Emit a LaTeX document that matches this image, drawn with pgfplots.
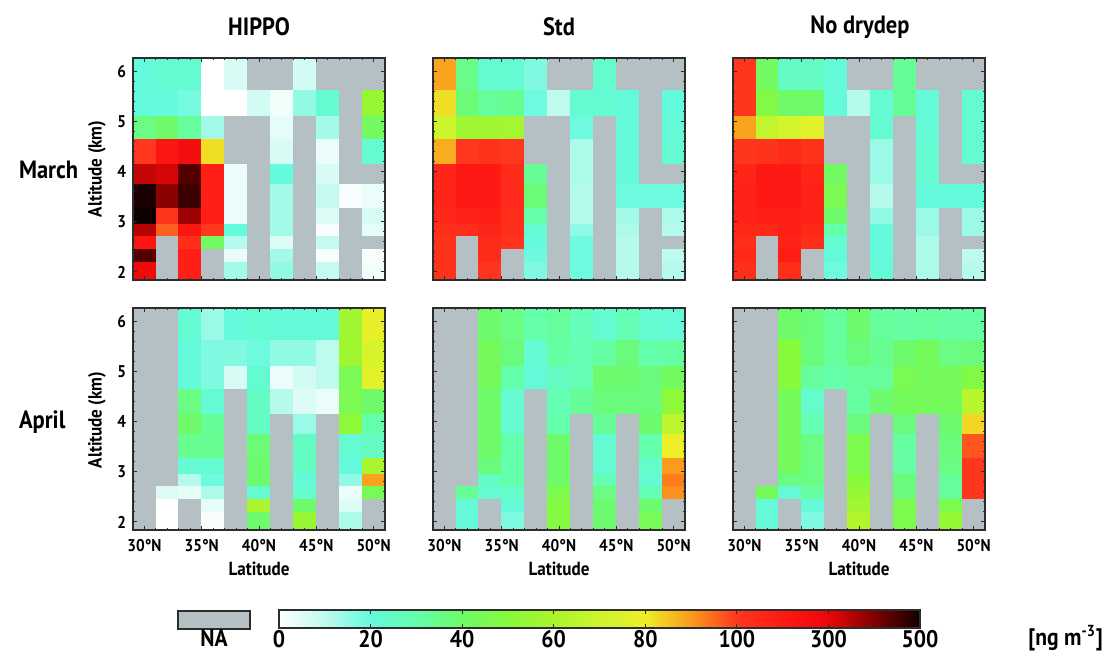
\documentclass[border=0pt]{standalone}
\usepackage{fontspec}
\setmainfont{PT Sans}[FakeStretch=0.9]
\usepackage{pgfplots}
\pgfplotsset{compat=1.18}

\definecolor{framec}{RGB}{45,45,45}
\definecolor{nagray}{RGB}{180,192,196}

% values in ng m-3, NA cells stored as -20 (mapped to gray)
\pgfplotsset{
  colormap={aero}{rgb255(0pt)=(180,192,196) rgb255(20pt)=(255,255,255)
    rgb255(30pt)=(190,250,238) rgb255(40pt)=(100,250,220) rgb255(50pt)=(100,255,170)
    rgb255(60pt)=(110,250,105) rgb255(70pt)=(135,250,60) rgb255(80pt)=(170,245,45)
    rgb255(90pt)=(205,245,45) rgb255(100pt)=(238,238,40) rgb255(110pt)=(250,155,30)
    rgb255(120pt)=(255,55,30) rgb255(220pt)=(255,25,20) rgb255(320pt)=(235,8,8)
    rgb255(420pt)=(130,0,0) rgb255(520pt)=(15,0,0)},
  panel/.style={
    scale only axis, width=126pt, height=111pt, anchor=south west,
    xmin=29, xmax=51, ymin=1.84, ymax=6.28,
    point meta min=-20, point meta max=500,
    axis on top,
    xtick={30,35,40,45,50}, ytick={2,3,4,5,6},
    minor x tick num=4, minor y tick num=4,
    tick align=inside, xtick pos=both, ytick pos=both,
    xticklabel pos=lower, yticklabel pos=left,
    major tick length=2.2pt, minor tick length=1.2pt,
    axis line style={framec, line width=0.7pt},
    every tick/.style={framec, line width=0.5pt},
    xticklabels={}, yticklabels={},
    tick label style={font=\fontsize{8.5}{10}\selectfont\bfseries},
    xticklabel style={yshift=-1pt},
  },
  cells/.style={surf, shader=flat corner, mesh/cols=12, point meta=explicit},
}

\begin{document}
\begin{tikzpicture}
\path (0,0) rectangle (555.5pt,327.5pt);

% HIPPO March
\begin{axis}[panel, at={(66.5pt,187.5pt)}, yticklabels={2,3,4,5,6}]
\addplot[cells] coordinates {
(29,1.84)[280] (31,1.84)[-20] (33,1.84)[180] (35,1.84)[-20] (37,1.84)[13] (39,1.84)[-20] (41,1.84)[15] (43,1.84)[-20] (45,1.84)[9] (47,1.84)[-20] (49,1.84)[2] (51,1.84)[-20]
(29,2.22)[440] (31,2.22)[-20] (33,2.22)[180] (35,2.22)[-20] (37,2.22)[3] (39,2.22)[-20] (41,2.22)[13] (43,2.22)[-20] (45,2.22)[1] (47,2.22)[-20] (49,2.22)[1] (51,2.22)[-20]
(29,2.47)[220] (31,2.47)[-20] (33,2.47)[130] (35,2.47)[42] (37,2.47)[11] (39,2.47)[-20] (41,2.47)[5] (43,2.47)[-20] (45,2.47)[9] (47,2.47)[-20] (49,2.47)[-20] (51,2.47)[-20]
(29,2.73)[350] (31,2.73)[96] (33,2.73)[220] (35,2.73)[100] (37,2.73)[20] (39,2.73)[-20] (41,2.73)[13] (43,2.73)[-20] (45,2.73)[1] (47,2.73)[-20] (49,2.73)[4] (51,2.73)[-20]
(29,2.97)[500] (31,2.97)[110] (33,2.97)[375] (35,2.97)[180] (37,2.97)[3] (39,2.97)[-20] (41,2.97)[13] (43,2.97)[-20] (45,2.97)[5] (47,2.97)[-20] (49,2.97)[6] (51,2.97)[-20]
(29,3.29)[490] (31,3.29)[390] (33,3.29)[460] (35,3.29)[180] (37,3.29)[3] (39,3.29)[-20] (41,3.29)[13] (43,3.29)[-20] (45,3.29)[9] (47,3.29)[1] (49,3.29)[3] (51,3.29)[-20]
(29,3.78)[335] (31,3.78)[320] (33,3.78)[440] (35,3.78)[180] (37,3.78)[3] (39,3.78)[-20] (41,3.78)[20] (43,3.78)[-20] (45,3.78)[6] (47,3.78)[-20] (49,3.78)[-20] (51,3.78)[-20]
(29,4.18)[100] (31,4.18)[220] (33,4.18)[260] (35,4.18)[82] (37,4.18)[-20] (39,4.18)[-20] (41,4.18)[6] (43,4.18)[-20] (45,4.18)[3] (47,4.18)[-20] (49,4.18)[22] (51,4.18)[-20]
(29,4.67)[36] (31,4.67)[40] (33,4.67)[32] (35,4.67)[13] (37,4.67)[-20] (39,4.67)[-20] (41,4.67)[4] (43,4.67)[-20] (45,4.67)[13] (47,4.67)[-20] (49,4.67)[42] (51,4.67)[-20]
(29,5.14)[20] (31,5.14)[20] (33,5.14)[18] (35,5.14)[0] (37,5.14)[0] (39,5.14)[7] (41,5.14)[2] (43,5.14)[15] (45,5.14)[22] (47,5.14)[-20] (49,5.14)[55] (51,5.14)[-20]
(29,5.66)[20] (31,5.66)[22] (33,5.66)[22] (35,5.66)[0] (37,5.66)[6] (39,5.66)[-20] (41,5.66)[-20] (43,5.66)[7] (45,5.66)[-20] (47,5.66)[-20] (49,5.66)[-20] (51,5.66)[-20]
(29,6.28)[-20] (31,6.28)[-20] (33,6.28)[-20] (35,6.28)[-20] (37,6.28)[-20] (39,6.28)[-20] (41,6.28)[-20] (43,6.28)[-20] (45,6.28)[-20] (47,6.28)[-20] (49,6.28)[-20] (51,6.28)[-20]
};
\end{axis}

% Std March
\begin{axis}[panel, at={(216.5pt,187.5pt)}]
\addplot[cells] coordinates {
(29,1.84)[115] (31,1.84)[-20] (33,1.84)[110] (35,1.84)[-20] (37,1.84)[17] (39,1.84)[-20] (41,1.84)[19] (43,1.84)[-20] (45,1.84)[11] (47,1.84)[-20] (49,1.84)[11] (51,1.84)[-20]
(29,2.22)[115] (31,2.22)[-20] (33,2.22)[140] (35,2.22)[-20] (37,2.22)[19] (39,2.22)[-20] (41,2.22)[19] (43,2.22)[-20] (45,2.22)[11] (47,2.22)[-20] (49,2.22)[10] (51,2.22)[-20]
(29,2.47)[115] (31,2.47)[-20] (33,2.47)[140] (35,2.47)[110] (37,2.47)[20] (39,2.47)[-20] (41,2.47)[19] (43,2.47)[-20] (45,2.47)[11] (47,2.47)[-20] (49,2.47)[-20] (51,2.47)[-20]
(29,2.73)[130] (31,2.73)[130] (33,2.73)[160] (35,2.73)[130] (37,2.73)[22] (39,2.73)[-20] (41,2.73)[15] (43,2.73)[-20] (45,2.73)[12] (47,2.73)[-20] (49,2.73)[11] (51,2.73)[-20]
(29,2.97)[150] (31,2.97)[170] (33,2.97)[180] (35,2.97)[130] (37,2.97)[30] (39,2.97)[-20] (41,2.97)[11] (43,2.97)[-20] (45,2.97)[13] (47,2.97)[-20] (49,2.97)[12] (51,2.97)[-20]
(29,3.29)[160] (31,3.29)[200] (33,3.29)[200] (35,3.29)[140] (37,3.29)[38] (39,3.29)[-20] (41,3.29)[11] (43,3.29)[-20] (45,3.29)[19] (47,3.29)[19] (49,3.29)[19] (51,3.29)[-20]
(29,3.78)[160] (31,3.78)[200] (33,3.78)[200] (35,3.78)[140] (37,3.78)[33] (39,3.78)[-20] (41,3.78)[12] (43,3.78)[-20] (45,3.78)[21] (47,3.78)[-20] (49,3.78)[-20] (51,3.78)[-20]
(29,4.18)[88] (31,4.18)[100] (33,4.18)[115] (35,4.18)[100] (37,4.18)[-20] (39,4.18)[-20] (41,4.18)[12] (43,4.18)[-20] (45,4.18)[21] (47,4.18)[-20] (49,4.18)[22] (51,4.18)[-20]
(29,4.67)[70] (31,4.67)[57] (33,4.67)[57] (35,4.67)[58] (37,4.67)[-20] (39,4.67)[-20] (41,4.67)[19] (43,4.67)[-20] (45,4.67)[21] (47,4.67)[-20] (49,4.67)[21] (51,4.67)[-20]
(29,5.14)[82] (31,5.14)[38] (33,5.14)[32] (35,5.14)[34] (37,5.14)[19] (39,5.14)[10] (41,5.14)[22] (43,5.14)[22] (45,5.14)[21] (47,5.14)[-20] (49,5.14)[20] (51,5.14)[-20]
(29,5.66)[89] (31,5.66)[35] (33,5.66)[22] (35,5.66)[22] (37,5.66)[17] (39,5.66)[-20] (41,5.66)[-20] (43,5.66)[23] (45,5.66)[-20] (47,5.66)[-20] (49,5.66)[-20] (51,5.66)[-20]
(29,6.28)[-20] (31,6.28)[-20] (33,6.28)[-20] (35,6.28)[-20] (37,6.28)[-20] (39,6.28)[-20] (41,6.28)[-20] (43,6.28)[-20] (45,6.28)[-20] (47,6.28)[-20] (49,6.28)[-20] (51,6.28)[-20]
};
\end{axis}

% No drydep March
\begin{axis}[panel, at={(366.5pt,187.5pt)}]
\addplot[cells] coordinates {
(29,1.84)[130] (31,1.84)[-20] (33,1.84)[130] (35,1.84)[-20] (37,1.84)[19] (39,1.84)[-20] (41,1.84)[21] (43,1.84)[-20] (45,1.84)[12] (47,1.84)[-20] (49,1.84)[11] (51,1.84)[-20]
(29,2.22)[150] (31,2.22)[-20] (33,2.22)[190] (35,2.22)[-20] (37,2.22)[21] (39,2.22)[-20] (41,2.22)[20] (43,2.22)[-20] (45,2.22)[12] (47,2.22)[-20] (49,2.22)[10] (51,2.22)[-20]
(29,2.47)[130] (31,2.47)[-20] (33,2.47)[165] (35,2.47)[130] (37,2.47)[22] (39,2.47)[-20] (41,2.47)[20] (43,2.47)[-20] (45,2.47)[12] (47,2.47)[-20] (49,2.47)[-20] (51,2.47)[-20]
(29,2.73)[150] (31,2.73)[150] (33,2.73)[180] (35,2.73)[150] (37,2.73)[30] (39,2.73)[-20] (41,2.73)[20] (43,2.73)[-20] (45,2.73)[14] (47,2.73)[-20] (49,2.73)[14] (51,2.73)[-20]
(29,2.97)[165] (31,2.97)[180] (33,2.97)[180] (35,2.97)[165] (37,2.97)[40] (39,2.97)[-20] (41,2.97)[15] (43,2.97)[-20] (45,2.97)[14] (47,2.97)[-20] (49,2.97)[14] (51,2.97)[-20]
(29,3.29)[170] (31,3.29)[200] (33,3.29)[200] (35,3.29)[170] (37,3.29)[45] (39,3.29)[-20] (41,3.29)[11] (43,3.29)[-20] (45,3.29)[20] (47,3.29)[20] (49,3.29)[20] (51,3.29)[-20]
(29,3.78)[160] (31,3.78)[200] (33,3.78)[200] (35,3.78)[160] (37,3.78)[42] (39,3.78)[-20] (41,3.78)[14] (43,3.78)[-20] (45,3.78)[22] (47,3.78)[-20] (49,3.78)[-20] (51,3.78)[-20]
(29,4.18)[102] (31,4.18)[115] (33,4.18)[140] (35,4.18)[115] (37,4.18)[-20] (39,4.18)[-20] (41,4.18)[14] (43,4.18)[-20] (45,4.18)[22] (47,4.18)[-20] (49,4.18)[22] (51,4.18)[-20]
(29,4.67)[89] (31,4.67)[67] (33,4.67)[72] (35,4.67)[76] (37,4.67)[-20] (39,4.67)[-20] (41,4.67)[22] (43,4.67)[-20] (45,4.67)[21] (47,4.67)[-20] (49,4.67)[22] (51,4.67)[-20]
(29,5.14)[102] (31,5.14)[48] (33,5.14)[40] (35,5.14)[40] (37,5.14)[21] (39,5.14)[11] (41,5.14)[22] (43,5.14)[33] (45,5.14)[21] (47,5.14)[-20] (49,5.14)[22] (51,5.14)[-20]
(29,5.66)[105] (31,5.66)[42] (33,5.66)[25] (35,5.66)[25] (37,5.66)[21] (39,5.66)[-20] (41,5.66)[-20] (43,5.66)[33] (45,5.66)[-20] (47,5.66)[-20] (49,5.66)[-20] (51,5.66)[-20]
(29,6.28)[-20] (31,6.28)[-20] (33,6.28)[-20] (35,6.28)[-20] (37,6.28)[-20] (39,6.28)[-20] (41,6.28)[-20] (43,6.28)[-20] (45,6.28)[-20] (47,6.28)[-20] (49,6.28)[-20] (51,6.28)[-20]
};
\end{axis}

% HIPPO April
\begin{axis}[panel, at={(66.5pt,62.5pt)}, yticklabels={2,3,4,5,6},
  xticklabels={30°N,35°N,40°N,45°N,50°N}]
\addplot[cells] coordinates {
(29,1.84)[-20] (31,1.84)[0] (33,1.84)[-20] (35,1.84)[1] (37,1.84)[-20] (39,1.84)[39] (41,1.84)[-20] (43,1.84)[55] (45,1.84)[-20] (47,1.84)[12] (49,1.84)[-20] (51,1.84)[-20]
(29,2.22)[-20] (31,2.22)[0] (33,2.22)[-20] (35,2.22)[4] (37,2.22)[-20] (39,2.22)[60] (41,2.22)[-20] (43,2.22)[40] (45,2.22)[-20] (47,2.22)[5] (49,2.22)[-20] (51,2.22)[-20]
(29,2.47)[-20] (31,2.47)[5] (33,2.47)[4] (35,2.47)[12] (37,2.47)[-20] (39,2.47)[22] (41,2.47)[-20] (43,2.47)[23] (45,2.47)[-20] (47,2.47)[3] (49,2.47)[44] (51,2.47)[-20]
(29,2.73)[-20] (31,2.73)[-20] (33,2.73)[11] (35,2.73)[19] (37,2.73)[-20] (39,2.73)[39] (41,2.73)[-20] (43,2.73)[21] (45,2.73)[-20] (47,2.73)[15] (49,2.73)[89] (51,2.73)[-20]
(29,2.97)[-20] (31,2.97)[-20] (33,2.97)[22] (35,2.97)[22] (37,2.97)[-20] (39,2.97)[39] (41,2.97)[-20] (43,2.97)[25] (45,2.97)[-20] (47,2.97)[20] (49,2.97)[60] (51,2.97)[-20]
(29,3.29)[-20] (31,3.29)[-20] (33,3.29)[34] (35,3.29)[34] (37,3.29)[-20] (39,3.29)[38] (41,3.29)[-20] (43,3.29)[25] (45,3.29)[-20] (47,3.29)[22] (49,3.29)[25] (51,3.29)[-20]
(29,3.78)[-20] (31,3.78)[-20] (33,3.78)[40] (35,3.78)[33] (37,3.78)[-20] (39,3.78)[25] (41,3.78)[-20] (43,3.78)[14] (45,3.78)[-20] (47,3.78)[52] (49,3.78)[30] (51,3.78)[-20]
(29,4.18)[-20] (31,4.18)[-20] (33,4.18)[36] (35,4.18)[22] (37,4.18)[-20] (39,4.18)[25] (41,4.18)[11] (43,4.18)[5] (45,4.18)[3] (47,4.18)[45] (49,4.18)[40] (51,4.18)[-20]
(29,4.67)[-20] (31,4.67)[-20] (33,4.67)[20] (35,4.67)[17] (37,4.67)[6] (39,4.67)[22] (41,4.67)[3] (43,4.67)[7] (45,4.67)[10] (47,4.67)[45] (49,4.67)[76] (51,4.67)[-20]
(29,5.14)[-20] (31,5.14)[-20] (33,5.14)[20] (35,5.14)[17] (37,5.14)[17] (39,5.14)[19] (41,5.14)[15] (43,5.14)[15] (45,5.14)[10] (47,5.14)[57] (49,5.14)[73] (51,5.14)[-20]
(29,5.66)[-20] (31,5.66)[-20] (33,5.66)[22] (35,5.66)[14] (37,5.66)[20] (39,5.66)[22] (41,5.66)[21] (43,5.66)[21] (45,5.66)[21] (47,5.66)[57] (49,5.66)[78] (51,5.66)[-20]
(29,6.28)[-20] (31,6.28)[-20] (33,6.28)[-20] (35,6.28)[-20] (37,6.28)[-20] (39,6.28)[-20] (41,6.28)[-20] (43,6.28)[-20] (45,6.28)[-20] (47,6.28)[-20] (49,6.28)[-20] (51,6.28)[-20]
};
\end{axis}

% Std April
\begin{axis}[panel, at={(216.5pt,62.5pt)}, xticklabels={30°N,35°N,40°N,45°N,50°N}]
\addplot[cells] coordinates {
(29,1.84)[-20] (31,1.84)[21] (33,1.84)[-20] (35,1.84)[17] (37,1.84)[-20] (39,1.84)[49] (41,1.84)[-20] (43,1.84)[39] (45,1.84)[-20] (47,1.84)[44] (49,1.84)[-20] (51,1.84)[-20]
(29,2.22)[-20] (31,2.22)[21] (33,2.22)[-20] (35,2.22)[21] (37,2.22)[-20] (39,2.22)[49] (41,2.22)[-20] (43,2.22)[39] (45,2.22)[-20] (47,2.22)[39] (49,2.22)[-20] (51,2.22)[-20]
(29,2.47)[-20] (31,2.47)[33] (33,2.47)[22] (35,2.47)[24] (37,2.47)[-20] (39,2.47)[46] (41,2.47)[-20] (43,2.47)[36] (45,2.47)[-20] (47,2.47)[28] (49,2.47)[91] (51,2.47)[-20]
(29,2.73)[-20] (31,2.73)[-20] (33,2.73)[25] (35,2.73)[30] (37,2.73)[-20] (39,2.73)[40] (41,2.73)[-20] (43,2.73)[28] (45,2.73)[-20] (47,2.73)[22] (49,2.73)[93] (51,2.73)[-20]
(29,2.97)[-20] (31,2.97)[-20] (33,2.97)[37] (35,2.97)[30] (37,2.97)[-20] (39,2.97)[40] (41,2.97)[-20] (43,2.97)[22] (45,2.97)[-20] (47,2.97)[23] (49,2.97)[90] (51,2.97)[-20]
(29,3.29)[-20] (31,3.29)[-20] (33,3.29)[40] (35,3.29)[30] (37,3.29)[-20] (39,3.29)[40] (41,3.29)[-20] (43,3.29)[22] (45,3.29)[-20] (47,3.29)[30] (49,3.29)[80] (51,3.29)[-20]
(29,3.78)[-20] (31,3.78)[-20] (33,3.78)[40] (35,3.78)[22] (37,3.78)[-20] (39,3.78)[30] (41,3.78)[-20] (43,3.78)[33] (45,3.78)[-20] (47,3.78)[39] (49,3.78)[66] (51,3.78)[-20]
(29,4.18)[-20] (31,4.18)[-20] (33,4.18)[40] (35,4.18)[22] (37,4.18)[-20] (39,4.18)[28] (41,4.18)[33] (43,4.18)[37] (45,4.18)[37] (47,4.18)[37] (49,4.18)[52] (51,4.18)[-20]
(29,4.67)[-20] (31,4.67)[-20] (33,4.67)[43] (35,4.67)[30] (37,4.67)[21] (39,4.67)[25] (41,4.67)[28] (43,4.67)[39] (45,4.67)[39] (47,4.67)[37] (49,4.67)[42] (51,4.67)[-20]
(29,5.14)[-20] (31,5.14)[-20] (33,5.14)[43] (35,5.14)[37] (37,5.14)[22] (39,5.14)[31] (41,5.14)[28] (43,5.14)[31] (45,5.14)[37] (47,5.14)[30] (49,5.14)[31] (51,5.14)[-20]
(29,5.66)[-20] (31,5.66)[-20] (33,5.66)[39] (35,5.66)[36] (37,5.66)[30] (39,5.66)[32] (41,5.66)[27] (43,5.66)[22] (45,5.66)[28] (47,5.66)[22] (49,5.66)[21] (51,5.66)[-20]
(29,6.28)[-20] (31,6.28)[-20] (33,6.28)[-20] (35,6.28)[-20] (37,6.28)[-20] (39,6.28)[-20] (41,6.28)[-20] (43,6.28)[-20] (45,6.28)[-20] (47,6.28)[-20] (49,6.28)[-20] (51,6.28)[-20]
};
\end{axis}

% No drydep April
\begin{axis}[panel, at={(366.5pt,62.5pt)}, xticklabels={30°N,35°N,40°N,45°N,50°N}]
\addplot[cells] coordinates {
(29,1.84)[-20] (31,1.84)[21] (33,1.84)[-20] (35,1.84)[17] (37,1.84)[-20] (39,1.84)[62] (41,1.84)[-20] (43,1.84)[46] (45,1.84)[-20] (47,1.84)[54] (49,1.84)[-20] (51,1.84)[-20]
(29,2.22)[-20] (31,2.22)[21] (33,2.22)[-20] (35,2.22)[21] (37,2.22)[-20] (39,2.22)[57] (41,2.22)[-20] (43,2.22)[46] (45,2.22)[-20] (47,2.22)[46] (49,2.22)[-20] (51,2.22)[-20]
(29,2.47)[-20] (31,2.47)[43] (33,2.47)[21] (35,2.47)[31] (37,2.47)[-20] (39,2.47)[54] (41,2.47)[-20] (43,2.47)[37] (45,2.47)[-20] (47,2.47)[32] (49,2.47)[102] (51,2.47)[-20]
(29,2.73)[-20] (31,2.73)[-20] (33,2.73)[36] (35,2.73)[36] (37,2.73)[-20] (39,2.73)[50] (41,2.73)[-20] (43,2.73)[37] (45,2.73)[-20] (47,2.73)[32] (49,2.73)[102] (51,2.73)[-20]
(29,2.97)[-20] (31,2.97)[-20] (33,2.97)[43] (35,2.97)[36] (37,2.97)[-20] (39,2.97)[46] (41,2.97)[-20] (43,2.97)[31] (45,2.97)[-20] (47,2.97)[36] (49,2.97)[102] (51,2.97)[-20]
(29,3.29)[-20] (31,3.29)[-20] (33,3.29)[43] (35,3.29)[36] (37,3.29)[-20] (39,3.29)[46] (41,3.29)[-20] (43,3.29)[31] (45,3.29)[-20] (47,3.29)[37] (49,3.29)[97] (51,3.29)[-20]
(29,3.78)[-20] (31,3.78)[-20] (33,3.78)[43] (35,3.78)[28] (37,3.78)[-20] (39,3.78)[37] (41,3.78)[-20] (43,3.78)[37] (45,3.78)[-20] (47,3.78)[39] (49,3.78)[83] (51,3.78)[-20]
(29,4.18)[-20] (31,4.18)[-20] (33,4.18)[43] (35,4.18)[23] (37,4.18)[-20] (39,4.18)[31] (41,4.18)[39] (43,4.18)[43] (45,4.18)[43] (47,4.18)[43] (49,4.18)[64] (51,4.18)[-20]
(29,4.67)[-20] (31,4.67)[-20] (33,4.67)[50] (35,4.67)[32] (37,4.67)[30] (39,4.67)[32] (41,4.67)[32] (43,4.67)[45] (45,4.67)[43] (47,4.67)[43] (49,4.67)[48] (51,4.67)[-20]
(29,5.14)[-20] (31,5.14)[-20] (33,5.14)[50] (35,5.14)[37] (37,5.14)[32] (39,5.14)[37] (41,5.14)[34] (43,5.14)[39] (45,5.14)[43] (47,5.14)[36] (49,5.14)[37] (51,5.14)[-20]
(29,5.66)[-20] (31,5.66)[-20] (33,5.66)[40] (35,5.66)[37] (37,5.66)[32] (39,5.66)[39] (41,5.66)[32] (43,5.66)[31] (45,5.66)[32] (47,5.66)[31] (49,5.66)[31] (51,5.66)[-20]
(29,6.28)[-20] (31,6.28)[-20] (33,6.28)[-20] (35,6.28)[-20] (37,6.28)[-20] (39,6.28)[-20] (41,6.28)[-20] (43,6.28)[-20] (45,6.28)[-20] (47,6.28)[-20] (49,6.28)[-20] (51,6.28)[-20]
};
\end{axis}

% colour bar
\begin{axis}[at={(139.5pt,13.5pt)}, anchor=south west, scale only axis,
  width=320.5pt, height=9pt, xmin=0, xmax=7, ymin=0, ymax=1,
  point meta min=-20, point meta max=500, axis on top,
  xtick={0,1,2,3,4,5,6,7}, xticklabels={0,20,40,60,80,100,300,500}, ytick=\empty,
  tick align=inside, xtick pos=both, xticklabel pos=lower, major tick length=2pt,
  axis line style={framec, line width=0.7pt}, every tick/.style={framec, line width=0.5pt},
  xticklabel style={font=\fontsize{12}{14}\selectfont\bfseries, inner sep=1pt}]
\addplot[surf, shader=interp, mesh/cols=8, point meta=explicit] coordinates {
(0,0)[0] (1,0)[20] (2,0)[40] (3,0)[60] (4,0)[80] (5,0)[100] (6,0)[300] (7,0)[500]
(0,1)[0] (1,1)[20] (2,1)[40] (3,1)[60] (4,1)[80] (5,1)[100] (6,1)[300] (7,1)[500]
};
\end{axis}

\draw[framec, line width=0.7pt, fill=nagray] (89pt,13pt) rectangle (125pt,22pt);
\node[font=\fontsize{12}{14}\selectfont\bfseries] at (107pt,8.5pt) {NA};
\node[font=\fontsize{12}{14}\selectfont\bfseries, anchor=east] at (555pt,8.5pt) {[ng m\textsuperscript{-3}]};

\begin{scope}[every node/.style={font=\fontsize{12.5}{15}\selectfont\bfseries}]
\node at (129.5pt,314pt) {HIPPO};
\node at (279.5pt,314pt) {Std};
\node at (430pt,314pt) {No drydep};
\node[anchor=west] at (6pt,242.5pt) {March};
\node[anchor=west] at (6pt,116.5pt) {April};
\end{scope}
\begin{scope}[every node/.style={font=\fontsize{9.5}{11}\selectfont\bfseries}]
\node[rotate=90] at (48.5pt,243pt) {Altitude (km)};
\node[rotate=90] at (48.5pt,117.5pt) {Altitude (km)};
\node at (129.5pt,43pt) {Latitude};
\node at (279.5pt,43pt) {Latitude};
\node at (429.5pt,43pt) {Latitude};
\end{scope}
\end{tikzpicture}
\end{document}
